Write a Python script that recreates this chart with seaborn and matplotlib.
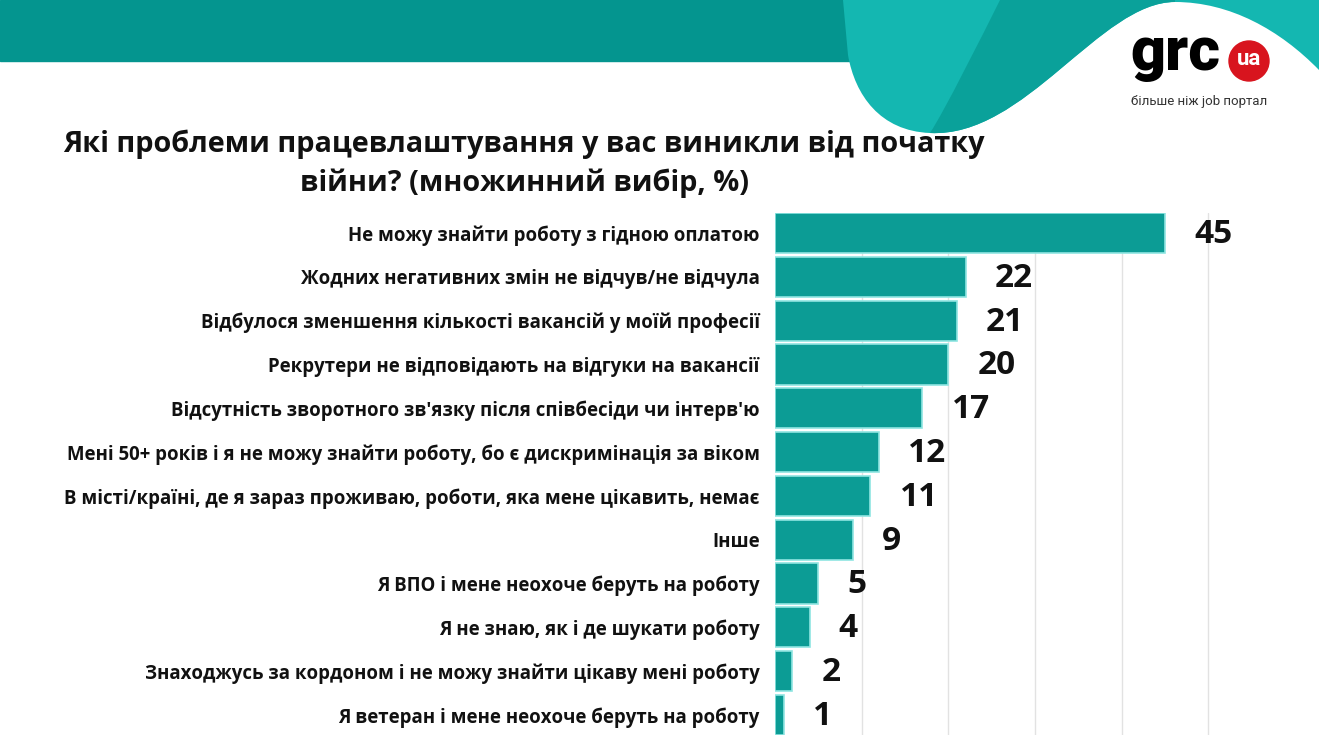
import matplotlib
matplotlib.use("Agg")
import matplotlib.pyplot as plt
import pandas as pd
import seaborn as sns
from matplotlib.path import Path
from matplotlib.patches import PathPatch, Rectangle, Ellipse

# Дані з графіка
categories = [
    "Не можу знайти роботу з гідною оплатою",
    "Жодних негативних змін не відчув/не відчула",
    "Відбулося зменшення кількості вакансій у моїй професії",
    "Рекрутери не відповідають на відгуки на вакансії",
    "Відсутність зворотного зв'язку після співбесіди чи інтерв'ю",
    "Мені 50+ років і я не можу знайти роботу, бо є дискримінація за віком",
    "В місті/країні, де я зараз проживаю, роботи, яка мене цікавить, немає",
    "Інше",
    "Я ВПО і мене неохоче беруть на роботу",
    "Я не знаю, як і де шукати роботу",
    "Знаходжусь за кордоном і не можу знайти цікаву мені роботу",
    "Я ветеран і мене неохоче беруть на роботу",
]
values = [45, 22, 21, 20, 17, 12, 11, 9, 5, 4, 2, 1]
grid_ticks = [10, 20, 30, 40, 50]

title = "Які проблеми працевлаштування у вас виникли від початку\nвійни? (множинний вибір, %)"

df = pd.DataFrame({"category": categories, "value": values})

sns.set_theme(style="white")
plt.rcParams["font.family"] = ["Open Sans", "DejaVu Sans"]

W, H = 1319, 737
fig = plt.figure(figsize=(W / 100, H / 100), dpi=100)
fig.patch.set_facecolor("white")


def px(x, y):
    return (x / W, 1 - y / H)


# Шапка: смуга і хвиля
band = Rectangle(px(0, 61), 900 / W, 61 / H, transform=fig.transFigure,
                 color="#04958f", zorder=0)
fig.add_artist(band)

wave_pts = [px(843, 0), px(1319, 0), px(1319, 70),
            px(1280, 30), px(1230, 2), px(1175, 2),
            px(1100, 2), px(1025, 138), px(930, 133),
            px(880, 131), px(855, 95), px(848, 55),
            px(843, 0)]
wave_codes = [Path.MOVETO, Path.LINETO, Path.LINETO,
              Path.CURVE4, Path.CURVE4, Path.CURVE4,
              Path.CURVE4, Path.CURVE4, Path.CURVE4,
              Path.CURVE4, Path.CURVE4, Path.CURVE4,
              Path.CLOSEPOLY]
fig.add_artist(PathPatch(Path(wave_pts, wave_codes), transform=fig.transFigure,
                         facecolor="#14b7b1", edgecolor="none", zorder=0))

stripe_pts = [px(1000, 0), px(1175, 0), px(1175, 2),
              px(1100, 2), px(1025, 138), px(930, 133),
              px(945, 110), px(980, 40), px(1000, 0),
              px(1000, 0)]
stripe_codes = [Path.MOVETO, Path.LINETO, Path.LINETO,
                Path.CURVE4, Path.CURVE4, Path.CURVE4,
                Path.CURVE4, Path.CURVE4, Path.CURVE4,
                Path.CLOSEPOLY]
fig.add_artist(PathPatch(Path(stripe_pts, stripe_codes), transform=fig.transFigure,
                         facecolor="#0aa19a", edgecolor="none", zorder=0))

# Логотип
fig.text(*px(1130, 70), "grc", fontsize=44, fontweight="heavy", family=["Roboto", "DejaVu Sans"],
         color="black", ha="left", va="baseline")
fig.add_artist(Ellipse(px(1249, 61), 40 / W, 40 / H, transform=fig.transFigure,
                       color="#d8141e", zorder=2))
fig.text(*px(1249, 59), "ua", fontsize=16, fontweight="bold", family=["Roboto", "DejaVu Sans"],
         color="white", ha="center", va="center", zorder=3)
fig.text(*px(1131, 102), "більше ніж job портал", fontsize=9.5, family=["Roboto", "DejaVu Sans"],
         color="#333333", ha="left", va="center")

# Заголовок
fig.text(*px(524, 164), title, fontsize=20.8, fontweight="bold", color="#111111",
         ha="center", va="center", linespacing=1.4, multialignment="center")

# Діаграма
ax = fig.add_axes([775 / W, 2 / H, 494 / W, 522 / H])
bar_w = 0.92
sns.barplot(data=df, x="value", y="category", color="#0c9c95", width=bar_w,
            edgecolor="#8fe5e1", linewidth=1.2, saturation=1, ax=ax, orient="h")

ax.set_xlim(0, 57)
ax.set_ylim(len(categories) - 1 + bar_w / 2, -bar_w / 2)
ax.set_xticks(grid_ticks)
ax.set_xticklabels([])
ax.grid(axis="x", color="#e2e2e2", linewidth=1)
ax.set_axisbelow(True)
ax.set_xlabel("")
ax.set_ylabel("")
for s in ax.spines.values():
    s.set_visible(False)
ax.tick_params(axis="y", length=0, pad=11, labelsize=13.4, labelcolor="#111111")
ax.tick_params(axis="x", length=0)
for lbl in ax.get_yticklabels():
    lbl.set_fontweight("bold")

for i, v in enumerate(values):
    ax.annotate(str(v), (v, i), xytext=(21, -1), textcoords="offset points",
                fontsize=24, fontweight="bold", color="#111111",
                ha="left", va="center", annotation_clip=False)

fig.savefig("out.png", dpi=100)
